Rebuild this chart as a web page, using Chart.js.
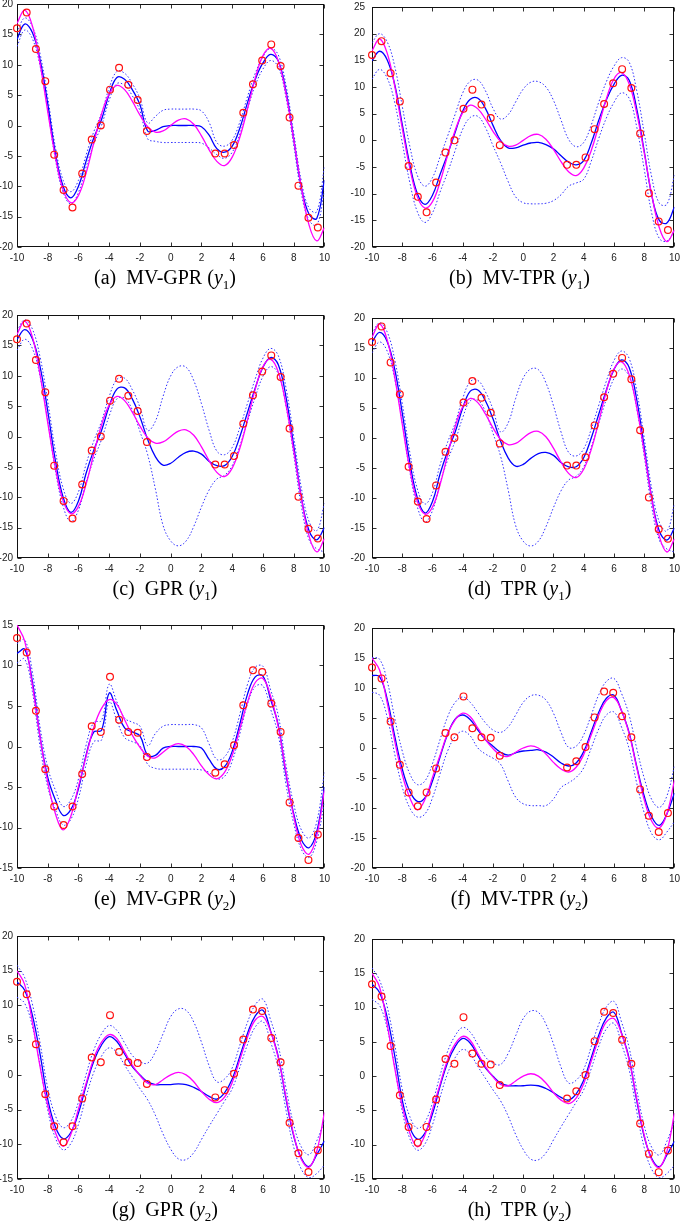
<!DOCTYPE html>
<html>
<head>
<meta charset="utf-8">
<script src="https://cdn.jsdelivr.net/npm/chart.js@4.4.1/dist/chart.umd.min.js"></script>
<style>
  body { margin: 0; background: #fff; }
  #page { position: relative; width: 685px; height: 1224px; overflow: hidden; background: #fff; }
  canvas { position: absolute; }
  .caption { position: absolute; width: 300px; height: 24px; line-height: 24px; text-align: center;
             font-family: "Liberation Serif", serif; font-size: 20px; color: #000; white-space: nowrap; }
  .caption sub { font-size: 13px; line-height: 0; }
</style>
</head>
<body>
<div id="page"></div>
<script>

const xs = [-10, -9.5, -9, -8.5, -8, -7.5, -7, -6.5, -6, -5.5, -5, -4.5, -4, -3.5, -3, -2.5, -2, -1.5, -1, -0.5,
            0, 0.5, 1, 1.5, 2, 2.5, 3, 3.5, 4, 4.5, 5, 5.5, 6, 6.5, 7, 7.5, 8, 8.5, 9, 9.5, 10];

// true functions (magenta)
const truthY1 = [16.8, 19.0, 16.4, 10.2, 2.3, -5.2, -10.6, -12.7, -11.5, -7.8, -2.8, 1.9, 5.2, 6.6, 5.9, 4.0, 1.7, -0.2, -1.1, -0.9,
                 0.0, 0.9, 1.1, 0.2, -1.7, -4.0, -5.9, -6.6, -5.2, -1.9, 2.8, 7.8, 11.5, 12.7, 10.6, 5.2, -2.3, -10.2, -16.4, -19.0, -16.8];
const truthY2 = [15.0, 13.0, 7.6, 1.2, -4.4, -8.3, -10.3, -8.6, -4.9, -1.2, 2.4, 4.7, 5.8, 5.2, 3.3, 1.4, -0.1, -1.2, -1.4, -0.7,
                 0.0, 0.35, 0.0, -1.0, -2.4, -3.5, -4.0, -3.2, -1.1, 2.2, 5.5, 7.9, 8.4, 6.2, 2.4, -3.2, -8.6, -12.2, -13.3, -11.0, -5.4];

// noisy observations (red circles)
const obsX = [-10, -9.37, -8.77, -8.16, -7.58, -6.97, -6.39, -5.76, -5.14, -4.55, -3.95, -3.36, -2.76, -2.15, -1.55,
              2.9, 3.51, 4.12, 4.72, 5.35, 5.95, 6.54, 7.15, 7.73, 8.31, 8.96, 9.57];
const obsY1 = [16.0, 18.6, 12.6, 7.3, -4.8, -10.6, -13.5, -7.9, -2.3, 0.0, 5.9, 9.5, 6.7, 4.2, -0.9,
               -4.6, -4.6, -3.2, 2.1, 6.8, 10.7, 13.35, 9.8, 1.3, -9.9, -15.2, -16.8];
const obsY2 = [13.4, 11.6, 4.4, -2.8, -7.4, -9.7, -7.4, -3.4, 2.5, 1.8, 8.6, 3.3, 1.8, 1.7, -1.3,
               -3.25, -2.2, 0.15, 5.1, 9.4, 9.2, 5.3, 1.8, -6.9, -11.3, -14.0, -10.85];

// (a) MV-GPR y1
const meanA  = [14.2, 16.7, 15.3, 10.8, 3.6, -4.6, -10.0, -11.9, -10.0, -5.8, -2.0, 1.0, 5.2, 7.9, 7.6, 5.9, 3.4, -0.9, -0.8, -0.2,
                0.0, 0.0, 0.0, 0.0, -0.2, -1.6, -3.8, -4.4, -3.4, -0.4, 3.8, 7.6, 10.3, 11.7, 10.6, 5.6, -2.2, -10.2, -14.6, -15.3, -9.0];
const upperA = [15.3, 17.7, 16.3, 11.8, 4.6, -3.6, -9.0, -10.9, -9.0, -4.8, -1.0, 2.0, 6.2, 8.9, 8.6, 6.9, 4.4, 0.4, 1.5, 2.5,
                2.7, 2.7, 2.7, 2.7, 2.4, 0.5, -2.8, -3.4, -2.4, 0.6, 4.8, 8.6, 11.3, 12.7, 11.6, 6.6, -1.2, -9.2, -13.6, -14.2, -6.8];
const lowerA = [13.0, 15.7, 14.3, 9.8, 2.6, -5.6, -11.0, -12.9, -11.0, -6.8, -3.0, 0.0, 4.2, 6.9, 6.6, 4.9, 2.4, -2.2, -2.6, -2.8,
                -2.8, -2.8, -2.8, -2.8, -2.9, -3.7, -4.8, -5.4, -4.4, -1.4, 2.8, 6.6, 9.3, 10.7, 9.6, 4.6, -3.2, -11.2, -15.6, -16.4, -10.8];

// (b) MV-TPR y1
const meanB  = [14.9, 16.7, 15.1, 10.5, 3.0, -4.5, -10.0, -12.0, -10.3, -6.4, -2.6, 1.5, 5.5, 7.7, 7.9, 6.0, 2.8, 0.0, -1.4, -1.4,
                -0.9, -0.5, -0.4, -0.8, -1.6, -2.9, -4.1, -4.6, -3.8, -0.5, 3.8, 7.6, 10.5, 12.2, 11.3, 6.0, -2.0, -10.3, -15.0, -15.5, -12.5];
const upperB = [18.3, 20.0, 18.5, 13.9, 6.4, -1.1, -6.6, -8.6, -7.0, -3.1, 0.8, 4.9, 8.9, 11.1, 11.3, 9.3, 6.0, 4.0, 4.8, 7.2,
                9.6, 10.9, 11.0, 10.0, 7.5, 3.8, 0.2, -1.2, -0.4, 2.9, 7.2, 11.0, 13.9, 15.5, 14.7, 9.4, 1.4, -6.9, -11.8, -12.0, -6.5];
const lowerB = [11.5, 13.3, 11.7, 7.1, -0.4, -7.9, -13.4, -15.4, -13.6, -9.7, -6.0, -1.9, 2.1, 4.3, 4.5, 2.4, -1.0, -4.2, -7.7, -10.6,
                -11.7, -11.9, -11.9, -11.8, -11.3, -10.2, -8.6, -8.0, -7.3, -3.9, 0.4, 4.2, 7.1, 8.9, 7.9, 2.6, -5.4, -13.7, -18.4, -18.9, -17.0];

// (c) GPR y1 and (d) TPR y1 look the same
const meanC  = [16.0, 17.6, 16.1, 11.5, 4.2, -4.0, -10.0, -12.5, -10.6, -6.0, -2.2, 1.0, 5.0, 7.8, 8.0, 6.2, 3.2, -0.5, -3.3, -4.7,
                -4.4, -3.4, -2.6, -2.4, -2.9, -4.1, -4.8, -4.8, -3.3, 0.0, 4.0, 8.0, 11.4, 13.0, 11.8, 6.5, -1.5, -10.0, -15.5, -17.0, -15.0];
const upperC = [17.4, 19.2, 17.7, 13.1, 5.8, -2.4, -8.5, -11.0, -9.1, -4.5, -0.7, 2.5, 6.6, 9.4, 9.6, 7.7, 4.8, 1.0, 2.5, 6.6,
                10.0, 11.5, 11.4, 9.2, 5.4, 1.0, -2.4, -3.0, -1.8, 1.5, 5.5, 9.5, 12.9, 14.5, 13.3, 8.0, 0.0, -8.5, -14.0, -15.5, -11.0];
const lowerC = [14.2, 16.0, 14.5, 9.9, 2.6, -5.6, -11.5, -14.0, -12.1, -7.5, -3.7, -0.5, 3.4, 6.2, 6.3, 4.4, 0.8, -3.0, -8.6, -14.6,
                -17.2, -18.0, -17.2, -14.8, -11.6, -8.8, -7.0, -6.4, -4.8, -1.5, 2.5, 6.5, 9.9, 11.5, 10.3, 5.0, -3.0, -11.5, -17.0, -18.5, -19.0];

// (e) MV-GPR y2
const meanE  = [11.5, 12.0, 8.0, 1.2, -3.8, -6.6, -8.5, -7.8, -5.2, -1.0, 1.8, 2.0, 6.6, 4.4, 2.3, 1.8, 1.3, -1.1, -1.1, -0.2,
                0.0, 0.0, 0.0, 0.0, -0.2, -1.6, -2.8, -2.5, -0.6, 2.8, 6.5, 8.6, 8.7, 5.8, 2.6, -3.5, -8.3, -11.5, -12.5, -10.5, -5.0];
const upperE = [12.7, 13.2, 9.2, 2.4, -2.6, -5.4, -7.4, -6.6, -4.0, 0.2, 3.0, 3.2, 7.7, 5.5, 3.5, 3.0, 2.5, 0.1, 1.6, 2.5,
                2.7, 2.7, 2.7, 2.7, 2.3, 0.3, -1.6, -1.3, 0.6, 4.0, 7.7, 9.8, 9.9, 7.0, 3.8, -2.3, -7.1, -10.3, -11.3, -9.3, -3.2];
const lowerE = [10.3, 10.8, 6.8, 0.0, -5.0, -7.8, -9.7, -9.0, -6.4, -2.2, 0.6, 0.8, 5.5, 3.2, 1.1, 0.6, 0.1, -2.2, -2.7, -2.8,
                -2.8, -2.8, -2.8, -2.8, -2.9, -3.2, -4.0, -3.7, -1.8, 1.6, 5.3, 7.4, 7.5, 4.6, 1.4, -4.7, -9.5, -12.7, -13.7, -11.7, -6.8];

// (f) MV-TPR y2
const meanF  = [12.1, 11.9, 8.2, 2.0, -3.5, -7.2, -8.9, -8.3, -5.5, -1.5, 2.3, 4.8, 5.5, 4.7, 3.0, 1.4, 0.3, -0.7, -1.2, -0.8,
                -0.5, -0.4, -0.3, -0.7, -1.5, -2.5, -3.0, -2.5, -0.6, 2.7, 6.0, 8.3, 8.8, 6.2, 2.6, -3.0, -8.0, -11.5, -12.9, -11.0, -7.5];
const upperF = [15.1, 14.8, 11.2, 5.0, -0.5, -4.3, -6.1, -5.5, -2.6, 1.4, 5.2, 7.6, 8.5, 7.6, 5.9, 4.2, 3.0, 2.6, 3.5, 5.5,
                7.6, 8.7, 8.8, 8.0, 5.8, 2.6, 0.1, 0.3, 2.2, 5.5, 8.9, 11.1, 11.6, 9.1, 5.5, 0.0, -5.0, -8.6, -9.9, -8.0, -3.0];
const lowerF = [9.3, 8.8, 5.2, -1.0, -6.5, -10.0, -11.5, -11.0, -8.3, -4.3, -0.5, 1.9, 2.8, 2.0, 0.0, -1.0, -1.7, -2.7, -5.5, -8.2,
                -9.3, -9.6, -9.6, -9.6, -8.5, -6.6, -5.8, -4.9, -3.3, 0.0, 3.2, 5.5, 6.0, 3.5, -0.1, -5.8, -10.8, -14.3, -15.3, -14.0, -12.3];

// (g) GPR y2 and (h) TPR y2 look the same
const meanG  = [13.4, 12.2, 8.6, 3.0, -3.5, -7.5, -9.2, -8.3, -5.5, -1.5, 2.0, 4.3, 5.5, 4.8, 3.0, 1.2, 0.0, -1.0, -1.4, -1.4,
                -1.4, -1.3, -1.4, -1.8, -2.4, -3.1, -3.5, -2.6, -0.6, 2.7, 6.0, 8.5, 9.3, 6.3, 2.6, -3.5, -8.8, -12.0, -13.2, -11.5, -9.5];
const upperG = [15.8, 14.0, 10.2, 4.6, -1.9, -5.9, -7.6, -6.7, -3.9, 0.1, 3.6, 5.9, 7.1, 6.4, 4.6, 2.8, 1.9, 1.7, 3.3, 5.9,
                8.4, 9.5, 9.3, 7.6, 4.7, 1.3, -1.0, -0.6, 1.0, 4.3, 7.6, 10.1, 10.9, 7.9, 4.2, -1.9, -7.2, -10.4, -11.5, -9.5, -6.6];
const lowerG = [11.2, 10.3, 7.0, 1.4, -5.1, -9.1, -10.8, -9.9, -7.1, -3.1, 0.4, 2.7, 3.9, 3.2, 1.4, -0.3, -2.0, -3.6, -5.8, -8.5,
                -10.7, -12.1, -12.2, -11.2, -9.3, -7.4, -5.6, -3.8, -2.0, 1.1, 4.4, 6.9, 7.7, 4.7, 1.0, -5.1, -10.4, -13.6, -14.8, -14.2, -13.0];

const panels = [
  { tag: "(a)", name: "MV-GPR", sub: "1", col: 0, row: 0, yMin: -20, yMax: 20, truth: truthY1, obs: obsY1, mean: meanA, upper: upperA, lower: lowerA },
  { tag: "(b)", name: "MV-TPR", sub: "1", col: 1, row: 0, yMin: -20, yMax: 25, truth: truthY1, obs: obsY1, mean: meanB, upper: upperB, lower: lowerB },
  { tag: "(c)", name: "GPR",    sub: "1", col: 0, row: 1, yMin: -20, yMax: 20, truth: truthY1, obs: obsY1, mean: meanC, upper: upperC, lower: lowerC },
  { tag: "(d)", name: "TPR",    sub: "1", col: 1, row: 1, yMin: -20, yMax: 20, truth: truthY1, obs: obsY1, mean: meanC, upper: upperC, lower: lowerC },
  { tag: "(e)", name: "MV-GPR", sub: "2", col: 0, row: 2, yMin: -15, yMax: 15, truth: truthY2, obs: obsY2, mean: meanE, upper: upperE, lower: lowerE },
  { tag: "(f)", name: "MV-TPR", sub: "2", col: 1, row: 2, yMin: -20, yMax: 20, truth: truthY2, obs: obsY2, mean: meanF, upper: upperF, lower: lowerF },
  { tag: "(g)", name: "GPR",    sub: "2", col: 0, row: 3, yMin: -15, yMax: 20, truth: truthY2, obs: obsY2, mean: meanG, upper: upperG, lower: lowerG },
  { tag: "(h)", name: "TPR",    sub: "2", col: 1, row: 3, yMin: -15, yMax: 20, truth: truthY2, obs: obsY2, mean: meanG, upper: upperG, lower: lowerG }
];

// page layout of the plot boxes
const rowTops = [4, 315, 625, 936];
const cols = [
  { left: 0,   width: 335, axisW: 17, padR: 10, lblPad: 4 },
  { left: 342, width: 343, axisW: 30, padR: 6,  lblPad: 7 }
];
const plotH = 243;

function pts(ys) {
  return xs.map((x, i) => ({ x: x, y: ys[i] }));
}

// frame with inward tick marks on all four sides
const framePlugin = {
  id: "frame",
  beforeDatasetsDraw(chart) {
    const ctx = chart.ctx;
    const a = chart.chartArea;
    const sx = chart.scales.x, sy = chart.scales.y;
    const L = Math.round(a.left) + 0.5, R = Math.round(a.right) - 0.5;
    const T = Math.round(a.top) + 0.5, B = Math.round(a.bottom) - 0.5;
    ctx.save();
    ctx.strokeStyle = "#333";
    ctx.lineWidth = 1;
    ctx.beginPath();
    sx.ticks.forEach(t => {
      const px = Math.round(sx.getPixelForValue(t.value)) + 0.5;
      ctx.moveTo(px, B); ctx.lineTo(px, B - 4);
      ctx.moveTo(px, T); ctx.lineTo(px, T + 4);
    });
    sy.ticks.forEach(t => {
      const py = Math.round(sy.getPixelForValue(t.value)) + 0.5;
      ctx.moveTo(L, py); ctx.lineTo(L + 4, py);
      ctx.moveTo(R, py); ctx.lineTo(R - 4, py);
    });
    ctx.stroke();
    ctx.strokeStyle = "#111";
    ctx.strokeRect(L, T, R - L, B - T);
    ctx.restore();
  }
};

const page = document.getElementById("page");

panels.forEach(p => {
  const col = cols[p.col];
  const top = rowTops[p.row];

  // Create the canvas
  const canvas = document.createElement("canvas");
  canvas.width = col.width;
  canvas.height = plotH + 10 + 22;
  canvas.style.left = col.left + "px";
  canvas.style.top = (top - 10) + "px";
  page.appendChild(canvas);

  const tickFont = { family: "'Liberation Sans', Arial, sans-serif", size: 10 };
  const obs = obsX.map((x, i) => ({ x: x, y: p.obs[i] }));

  new Chart(canvas.getContext("2d"), {
    type: "line",
    data: {
      datasets: [
        { type: "scatter", data: obs, showLine: false, pointStyle: "circle", pointRadius: 3.4,
          borderWidth: 1.2, borderColor: "#ff1010", backgroundColor: "rgba(0,0,0,0)", clip: false, order: 0 },
        { data: pts(p.truth), borderColor: "#ff00ff", borderWidth: 1.3, pointRadius: 0, tension: 0.4, order: 1 },
        { data: pts(p.mean), borderColor: "#0000ff", borderWidth: 1.3, pointRadius: 0, tension: 0.4, order: 2 },
        { data: pts(p.upper), borderColor: "#3030ff", borderWidth: 1, borderDash: [1.5, 2], pointRadius: 0, tension: 0.4, order: 3 },
        { data: pts(p.lower), borderColor: "#3030ff", borderWidth: 1, borderDash: [1.5, 2], pointRadius: 0, tension: 0.4, order: 4 }
      ]
    },
    options: {
      responsive: false,
      animation: false,
      events: [],
      layout: { padding: { top: 10, right: col.padR, left: 0, bottom: 0 } },
      plugins: { legend: { display: false }, tooltip: { enabled: false } },
      scales: {
        x: {
          type: "linear", min: -10, max: 10,
          grid: { display: false, drawTicks: false }, border: { display: false },
          ticks: { stepSize: 2, padding: 5, color: "#222", font: tickFont, maxRotation: 0, autoSkip: false },
          afterFit: s => { s.height = 22; }
        },
        y: {
          type: "linear", min: p.yMin, max: p.yMax,
          grid: { display: false, drawTicks: false }, border: { display: false },
          ticks: { stepSize: 5, padding: col.lblPad, color: "#222", font: tickFont, autoSkip: false },
          afterFit: s => { s.width = col.axisW; }
        }
      }
    },
    plugins: [framePlugin]
  });

  // caption under the panel, centred on the whole sub-figure
  const cap = document.createElement("div");
  cap.className = "caption";
  const centre = col.left + col.axisW + (col.width - col.axisW - col.padR) / 2 - 6;
  cap.style.left = (centre - 150) + "px";
  cap.style.top = (top + 273 - 12) + "px";
  cap.innerHTML = p.tag + "&ensp;" + p.name + " (<i>y</i><sub>" + p.sub + "</sub>)";
  page.appendChild(cap);
});
</script>
</body>
</html>
